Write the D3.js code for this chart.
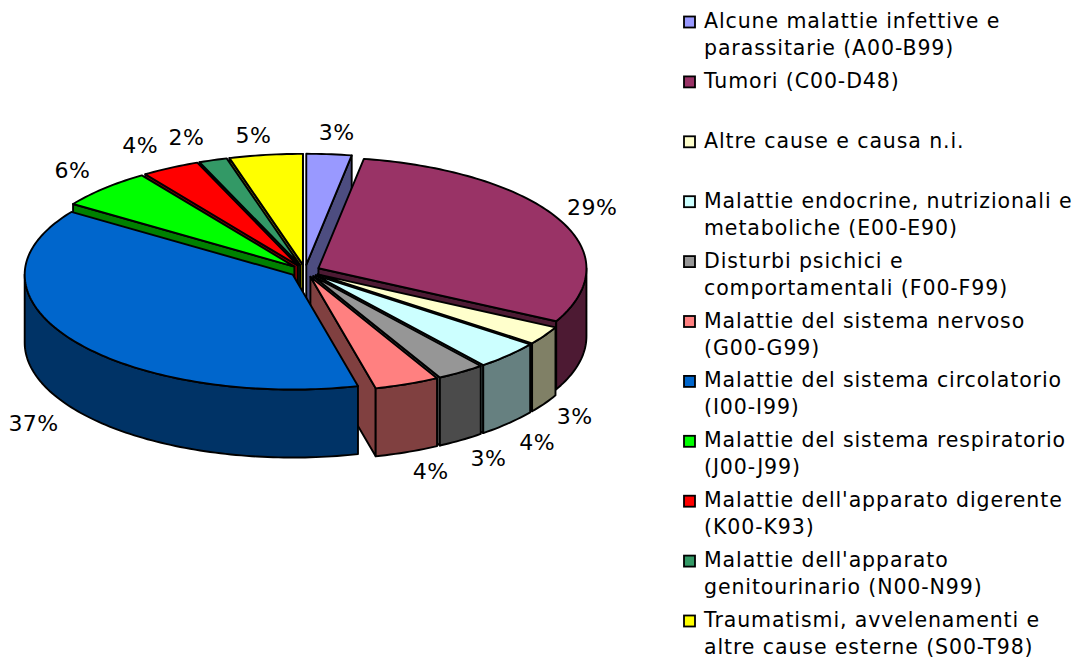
<!DOCTYPE html>
<html>
<head>
<meta charset="utf-8">
<script src="https://cdn.jsdelivr.net/npm/d3@7"></script>
<style>
    html, body { margin: 0; padding: 0; background: #fff; }
    svg { display: block; }
    text { font-family: "DejaVu Sans", sans-serif; fill: #000; }
</style>
</head>
<body>
<svg id="chart" width="1075" height="657"></svg>
<script>
// Slices, clockwise from 12 o'clock
const categories = [
    ['Alcune malattie infettive e', 'parassitarie (A00-B99)'],
    ['Tumori (C00-D48)'],
    ['Altre cause e causa n.i.'],
    ['Malattie endocrine, nutrizionali e', 'metaboliche (E00-E90)'],
    ['Disturbi psichici e', 'comportamentali (F00-F99)'],
    ['Malattie del sistema nervoso', '(G00-G99)'],
    ['Malattie del sistema circolatorio', '(I00-I99)'],
    ['Malattie del sistema respiratorio', '(J00-J99)'],
    ["Malattie dell'apparato digerente", '(K00-K93)'],
    ["Malattie dell'apparato", 'genitourinario (N00-N99)'],
    ['Traumatismi, avvelenamenti e', 'altre cause esterne (S00-T98)']
];
const values = [2.7, 29.8, 2.6, 4.0, 2.9, 3.9, 38.3, 5.8, 3.5, 1.7, 4.4];
// percentages as printed
const percentLabels = ['3%', '29%', '3%', '4%', '3%', '4%', '37%', '6%', '4%', '2%', '5%'];
const topColors = ['#9999FF', '#993366', '#FFFFCC', '#CCFFFF', '#969696', '#FF8080', '#0066CC', '#00FF00', '#FF0000', '#339966', '#FFFF00'];
const sideColors = ['#4D4D80', '#4D1A33', '#808066', '#668080', '#4B4B4B', '#804040', '#003366', '#008000', '#800000', '#1A4D33', '#808000'];
// back to front, circulatory last since its top covers the walls next to it
const drawOrder = [0, 10, 9, 8, 7, 1, 2, 3, 4, 5, 6];
// small corrections for the percent labels
const labelNudge = [[5, -3], [5, -3], [3, 5], [6, 8], [10, 5], [12, 5], [-13, 6], [-9, -5], [-15, -6], [-16, -5], [-8, -1]];

const cx = 305, cy = 271, rx = 268, ryBack = 111, ryFront = 115, depth = 68, explode = 15;
const lineGen = d3.line();

const svg = d3.select('#chart');
const pieGroup = svg.append('g');

const arcs = d3.pie().sort(null).value(d => d)(values);

function offsetOf(a) {
    const mid = (a.startAngle + a.endAngle) / 2;
    return [cx + explode * Math.sin(mid), cy - explode * (ryBack / rx) * Math.cos(mid)];
}

// front half of the pie looks a bit taller than the back in the original
function rim(c, angle, rxx = rx, back = ryBack, front = ryFront) {
    const cos = Math.cos(angle);
    return [c[0] + rxx * Math.sin(angle), c[1] - (cos > 0 ? back : front) * cos];
}

function arcPoints(c, from, to) {
    const n = Math.max(2, Math.ceil((to - from) / 0.02));
    return d3.range(n + 1).map(i => rim(c, from + (to - from) * i / n));
}

const down = p => [p[0], p[1] + depth];

function addShape(points, fill) {
    pieGroup.append('path')
        .attr('d', lineGen(points) + 'Z')
        .attr('fill', fill)
        .attr('stroke', '#000')
        .attr('stroke-width', 1.9)
        .attr('stroke-linejoin', 'round');
}

drawOrder.forEach(i => {
    const a = arcs[i];
    const c = offsetOf(a);
    const side = sideColors[i];

    // cut faces, only those turned towards the viewer
    if (Math.cos(a.startAngle - Math.PI / 2) < 0) {
        const p = rim(c, a.startAngle);
        addShape([c, p, down(p), down(c)], side);
    }
    if (Math.cos(a.endAngle + Math.PI / 2) < 0) {
        const p = rim(c, a.endAngle);
        addShape([c, p, down(p), down(c)], side);
    }

    // outer wall on the front half
    const from = Math.max(a.startAngle, Math.PI / 2);
    const to = Math.min(a.endAngle, Math.PI * 1.5);
    if (to > from) {
        const edge = arcPoints(c, from, to);
        addShape(edge.concat(edge.map(down).reverse()), side);
    }

    // top
    addShape([c].concat(arcPoints(c, a.startAngle, a.endAngle)), topColors[i]);
});

// Percent labels
const labelGroup = svg.append('g');
arcs.forEach((a, i) => {
    const mid = (a.startAngle + a.endAngle) / 2;
    const c = offsetOf(a);
    const p = rim(c, mid, 300, 130, 130);
    const front = Math.cos(mid) < -0.3 ? depth : 0;
    labelGroup.append('text')
        .attr('x', p[0] + labelNudge[i][0])
        .attr('y', p[1] + front + labelNudge[i][1])
        .attr('dy', '0.36em')
        .attr('text-anchor', 'middle')
        .attr('font-size', 22)
        .attr('letter-spacing', 0.5)
        .text(percentLabels[i]);
});

// Legend
const legendY = d3.scalePoint().domain(d3.range(categories.length)).range([22, 621]);
const legend = svg.append('g')
    .selectAll('g')
    .data(categories)
    .join('g')
    .attr('transform', (d, i) => `translate(684, ${legendY(i)})`);

legend.append('rect')
    .attr('x', 0)
    .attr('y', -5.5)
    .attr('width', 11)
    .attr('height', 11)
    .attr('fill', (d, i) => topColors[i])
    .attr('stroke', '#000')
    .attr('stroke-width', 1.8);

legend.each(function(d) {
    const g = d3.select(this);
    d.forEach((line, j) => {
        g.append('text')
            .attr('x', 20)
            .attr('y', 6 + j * 27)
            .attr('font-size', 20.5)
            .attr('letter-spacing', 0.9)
            .text(line);
    });
});
</script>
</body>
</html>
